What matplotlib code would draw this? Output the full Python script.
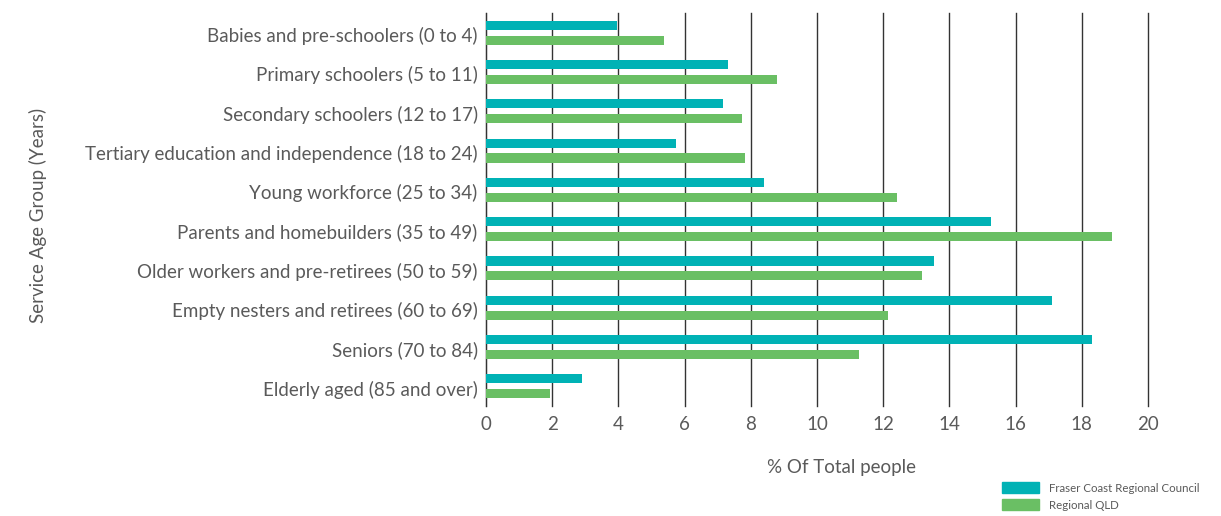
import numpy as np
import matplotlib.pyplot as plt
import matplotlib.transforms as mtransforms
from matplotlib.patches import Patch

# Data
categories = [
    "Babies and pre-schoolers (0 to 4)",
    "Primary schoolers (5 to 11)",
    "Secondary schoolers (12 to 17)",
    "Tertiary education and independence (18 to 24)",
    "Young workforce (25 to 34)",
    "Parents and homebuilders (35 to 49)",
    "Older workers and pre-retirees (50 to 59)",
    "Empty nesters and retirees (60 to 69)",
    "Seniors (70 to 84)",
    "Elderly aged (85 and over)",
]
fraser_coast = [3.96, 7.30, 7.15, 5.73, 8.40, 15.25, 13.53, 17.09, 18.31, 2.91]
regional_qld = [5.39, 8.79, 7.73, 7.83, 12.41, 18.90, 13.17, 12.15, 11.28, 1.94]
xticks = [0, 2, 4, 6, 8, 10, 12, 14, 16, 18, 20]

teal = '#00b2b5'
green = '#6abf64'
text_col = '#5a5a5a'

plt.rcParams['font.family'] = ['Lato', 'DejaVu Sans']

fig = plt.figure(figsize=(12.21, 5.16), dpi=100)
ax = fig.add_axes([486 / 1221, 1 - 406 / 516, (1148 - 486) / 1221, (406 - 13) / 516])

y = np.arange(len(categories))
h = 0.23
ax.barh(y - 0.19, fraser_coast, height=h, color=teal, zorder=3)
ax.barh(y + 0.19, regional_qld, height=h, color=green, zorder=3)

ax.set_xlim(0, 20)
ax.set_ylim(len(categories) - 0.5, -0.5)
ax.set_xticks(xticks)
ax.set_yticks(y)
ax.set_yticklabels(categories)
ax.tick_params(axis='both', length=0, labelsize=13.5, labelcolor=text_col)
ax.tick_params(axis='y', pad=6)
ax.tick_params(axis='x', pad=7)
# nudge category labels down a touch
shift = mtransforms.ScaledTranslation(0, -2 / 100, fig.dpi_scale_trans)
for lab in ax.get_yticklabels():
    lab.set_transform(lab.get_transform() + shift)

ax.grid(axis='x', color='#333333', linewidth=1, zorder=0)
for gl in ax.get_xgridlines():
    gl.set_clip_on(False)
for s in ['top', 'right', 'bottom']:
    ax.spines[s].set_visible(False)
ax.spines['left'].set_color('#333333')

ax.set_xlabel("% Of Total people", fontsize=13.5, color=text_col)
ax.xaxis.set_label_coords(0.537, -0.135)
fig.text(38 / 1221, 1 - 215 / 516, "Service Age Group (Years)", rotation=90, fontsize=13.5,
         color=text_col, ha='center', va='center')

handles = [Patch(color=teal, label='Fraser Coast Regional Council'),
           Patch(color=green, label='Regional QLD')]
leg = fig.legend(handles=handles, loc='upper left', bbox_to_anchor=(994 / 1221, 1 - 474 / 516),
                 frameon=False, fontsize=8.3, handlelength=3.2, handleheight=1.1,
                 labelspacing=0.5, handletextpad=0.9, borderpad=0.2)
for t in leg.get_texts():
    t.set_color(text_col)

fig.savefig('out.png', dpi=100)
